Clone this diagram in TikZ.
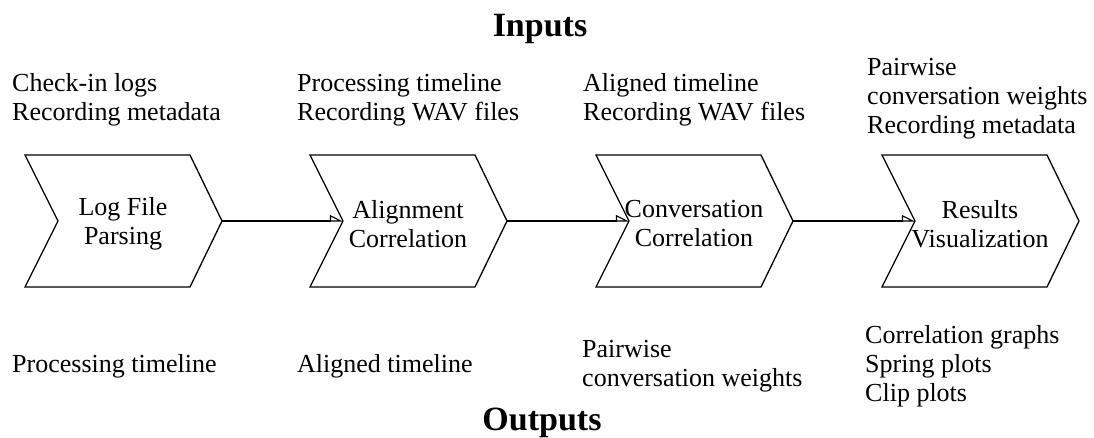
\documentclass[tikz,border=0pt]{standalone}
\usepackage{fontspec}
\setmainfont{Liberation Serif}
\usetikzlibrary{arrows.meta}
\tikzset{
  chev/.style={draw, line width=1.3pt, line join=miter},
  lbl/.style={font=\fontsize{26}{29}\selectfont, inner sep=0pt, align=left, anchor=base west},
  steplbl/.style={font=\fontsize{26}{29}\selectfont, inner sep=0pt, align=center},
  ttl/.style={font=\fontsize{34}{40}\selectfont\bfseries, inner sep=0pt, anchor=base},
  conn/.style={line width=1.3pt, -{Triangle[open,harpoon,length=12pt,width=12pt,line width=1.1pt]}}
}
\begin{document}
\begin{tikzpicture}[x=1pt,y=-1pt]
\useasboundingbox (0,0) rectangle (1094,438);
% titles
\node[ttl] (inputs) at (540,37) {Inputs};
\node[ttl] (outputs) at (542,430) {Outputs};
% chevron coordinates
\coordinate (notch1) at (58,221);  \coordinate (tip1) at (222,221);
\coordinate (notch2) at (343,221); \coordinate (tip2) at (507,221);
\coordinate (notch3) at (629,221); \coordinate (tip3) at (793,221);
\coordinate (notch4) at (915,221); \coordinate (tip4) at (1079,221);
% chevrons
\draw[chev] (25,155) -- (190,155) -- (tip1) -- (190,287) -- (25,287) -- (notch1) -- cycle;
\draw[chev] (310,155) -- (475,155) -- (tip2) -- (475,287) -- (310,287) -- (notch2) -- cycle;
\draw[chev] (596,155) -- (761,155) -- (tip3) -- (761,287) -- (596,287) -- (notch3) -- cycle;
\draw[chev] (882,155) -- (1047,155) -- (tip4) -- (1047,287) -- (882,287) -- (notch4) -- cycle;
% step labels
\node[steplbl] (s1) at (123,224) {Log File\\Parsing};
\node[steplbl] (s2) at (408,224) {Alignment\\Correlation};
\node[steplbl] (s3) at (694,224) {Conversation\\Correlation};
\node[steplbl] (s4) at (980,224) {Results\\Visualization};
% connectors
\draw[conn] (tip1) -- (notch2);
\draw[conn] (tip2) -- (notch3);
\draw[conn] (tip3) -- (notch4);
% inputs (base anchor = baseline of last line)
\node[lbl] (in1) at (12,121) {Check-in logs\\Recording metadata};
\node[lbl] (in2) at (297,121) {Processing timeline\\Recording WAV files};
\node[lbl] (in3) at (583,121) {Aligned timeline\\Recording WAV files};
\node[lbl] (in4) at (867,134) {Pairwise\\conversation weights\\Recording metadata};
% outputs
\node[lbl] (out1) at (12,372) {Processing timeline};
\node[lbl] (out2) at (297,372) {Aligned timeline};
\node[lbl] (out3) at (582,386) {Pairwise\\conversation weights};
\node[lbl] (out4) at (865,401) {Correlation graphs\\Spring plots\\Clip plots};
\end{tikzpicture}
\end{document}
